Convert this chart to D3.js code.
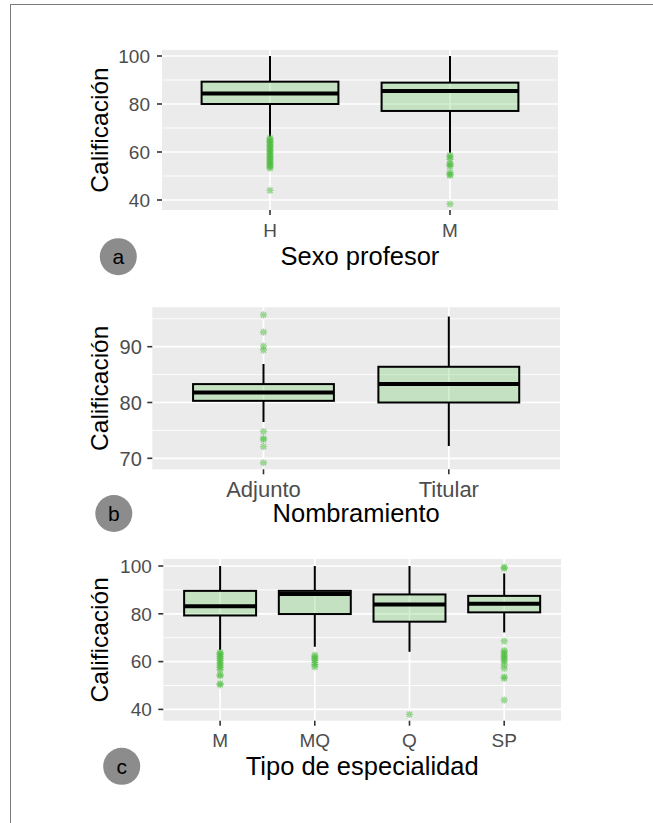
<!DOCTYPE html>
<html>
<head>
<meta charset="utf-8">
<script src="https://cdn.jsdelivr.net/npm/d3@7"></script>
<style>
  html, body { margin: 0; padding: 0; background: #fff; }
  svg { display: block; font-family: "Liberation Sans", Arial, Helvetica, sans-serif; }
</style>
</head>
<body>
<svg id="chart" width="653" height="823"></svg>
<script>
// ---------------- DATA ----------------
// Panel a: Sexo profesor
const sexoCats = ["H", "M"];
const sexoLower = [66.4, 59.7];
const sexoQ1 = [80.0, 77.1];
const sexoMedian = [84.4, 85.4];
const sexoQ3 = [89.3, 88.9];
const sexoUpper = [100, 100];
const sexoOutliers = [
  [65.8, 65.2, 64.6, 64.0, 63.4, 62.8, 62.2, 61.6, 61.0, 60.4, 59.8, 59.2, 58.6, 58.0, 57.4, 56.8, 56.2, 55.6, 55.0, 54.4, 53.8, 53.3, 44.0],
  [58.6, 58.0, 57.0, 55.2, 54.6, 54.0, 51.5, 50.7, 50.2, 38.3]
];
const sexoTicks = [40, 60, 80, 100];

// Panel b: Nombramiento
const nombCats = ["Adjunto", "Titular"];
const nombLower = [76.5, 72.2];
const nombQ1 = [80.3, 80.0];
const nombMedian = [81.8, 83.3];
const nombQ3 = [83.3, 86.4];
const nombUpper = [86.9, 95.4];
const nombOutliers = [
  [95.7, 92.6, 90.1, 89.4, 74.8, 73.6, 73.3, 72.1, 69.2],
  []
];
const nombTicks = [70, 80, 90];

// Panel c: Tipo de especialidad
const espCats = ["M", "MQ", "Q", "SP"];
const espLower = [64.8, 66.2, 64.1, 72.2];
const espQ1 = [79.3, 79.9, 76.7, 80.6];
const espMedian = [83.2, 88.3, 83.9, 84.2];
const espQ3 = [89.6, 89.6, 88.1, 87.5];
const espUpper = [100, 100, 100, 96.9];
const espOutliers = [
  [63.8, 63.3, 62.8, 62.0, 61.3, 60.5, 59.8, 59.0, 58.2, 57.5, 56.6, 54.5, 54.0, 50.8, 50.3],
  [62.7, 62.0, 61.3, 60.6, 59.6, 58.7, 57.8],
  [37.9],
  [99.5, 99.0, 68.6, 64.6, 64.0, 63.0, 62.3, 61.6, 60.8, 60.0, 58.6, 57.1, 53.6, 53.0, 43.9]
];
const espTicks = [40, 60, 80, 100];

const yTitle = "Calificación";

// ---------------- LAYOUT ----------------
const svg = d3.select("#chart");

// figure frame (top + left visible)
svg.append("line").attr("x1", 10).attr("y1", 4.5).attr("x2", 653).attr("y2", 4.5)
  .attr("stroke", "#7a7a7a").attr("stroke-width", 1);
svg.append("line").attr("x1", 10.5).attr("y1", 4).attr("x2", 10.5).attr("y2", 823)
  .attr("stroke", "#7a7a7a").attr("stroke-width", 1);

const panels = [
  { cats: sexoCats, lo: sexoLower, q1: sexoQ1, med: sexoMedian, q3: sexoQ3, hi: sexoUpper, out: sexoOutliers,
    ticks: sexoTicks, title: "Sexo profesor", letter: "a",
    x0: 162, x1: 558, y0: 50, y1: 210, domain: [35.83, 102.5],
    yTickFont: 19, xTickFont: 19, xTickDy: 27, titleDy: 55, yLabEnd: 12,
    circle: [118.3, 256.7] },
  { cats: nombCats, lo: nombLower, q1: nombQ1, med: nombMedian, q3: nombQ3, hi: nombUpper, out: nombOutliers,
    ticks: nombTicks, title: "Nombramiento", letter: "b",
    x0: 152.3, x1: 560, y0: 307.3, y1: 469.3, domain: [68.03, 97.06],
    yTickFont: 20, xTickFont: 22, xTickDy: 28, titleDy: 52.5, yLabEnd: 10.5,
    circle: [113.8, 513.5] },
  { cats: espCats, lo: espLower, q1: espQ1, med: espMedian, q3: espQ3, hi: espUpper, out: espOutliers,
    ticks: espTicks, title: "Tipo de especialidad", letter: "c",
    x0: 163.3, x1: 561, y0: 559, y1: 720.7, domain: [35.27, 102.93],
    yTickFont: 19, xTickFont: 19, xTickDy: 26.5, titleDy: 54.5, yLabEnd: 11.5,
    circle: [121.7, 766.3] }
];

const boxFill = "rgb(105,205,95)";
const outColor = "rgb(75,188,60)";

function asterisk(r) {
  const d = r * 0.72;
  return `M${-r},0L${r},0M0,${-r}L0,${r}M${-d},${-d}L${d},${d}M${-d},${d}L${d},${-d}`;
}

panels.forEach(p => {
  const g = svg.append("g");
  const x = d3.scalePoint().domain(p.cats).range([p.x0, p.x1]).padding(0.6);
  const y = d3.scaleLinear().domain(p.domain).range([p.y1, p.y0]);
  const bw = x.step() * 0.76;

  // panel background
  g.append("rect").attr("x", p.x0).attr("y", p.y0)
    .attr("width", p.x1 - p.x0).attr("height", p.y1 - p.y0).attr("fill", "#ebebeb");

  // minor grid
  const step = p.ticks[1] - p.ticks[0];
  const minors = [];
  for (let i = 0; i < p.ticks.length + 1; i++) {
    const v = p.ticks[0] - step / 2 + i * step;
    if (v > p.domain[0] && v < p.domain[1]) minors.push(v);
  }
  g.selectAll(".minor").data(minors).enter().append("line")
    .attr("x1", p.x0).attr("x2", p.x1)
    .attr("y1", d => y(d)).attr("y2", d => y(d))
    .attr("stroke", "#fff").attr("stroke-width", 0.9);
  // major grid
  g.selectAll(".major").data(p.ticks).enter().append("line")
    .attr("x1", p.x0).attr("x2", p.x1)
    .attr("y1", d => y(d)).attr("y2", d => y(d))
    .attr("stroke", "#fff").attr("stroke-width", 1.7);
  g.selectAll(".vmajor").data(p.cats).enter().append("line")
    .attr("x1", d => x(d)).attr("x2", d => x(d))
    .attr("y1", p.y0).attr("y2", p.y1)
    .attr("stroke", "#fff").attr("stroke-width", 1.7);

  p.cats.forEach((c, i) => {
    const cx = x(c);
    // whiskers
    g.append("line").attr("x1", cx).attr("x2", cx).attr("y1", y(p.hi[i])).attr("y2", y(p.q3[i]))
      .attr("stroke", "#000").attr("stroke-width", 2);
    g.append("line").attr("x1", cx).attr("x2", cx).attr("y1", y(p.q1[i])).attr("y2", y(p.lo[i]))
      .attr("stroke", "#000").attr("stroke-width", 2);
    // box
    g.append("rect").attr("x", cx - bw / 2).attr("y", y(p.q3[i]))
      .attr("width", bw).attr("height", y(p.q1[i]) - y(p.q3[i]))
      .attr("fill", boxFill).attr("fill-opacity", 0.3)
      .attr("stroke", "#000").attr("stroke-width", 2);
    // median
    g.append("line").attr("x1", cx - bw / 2).attr("x2", cx + bw / 2)
      .attr("y1", y(p.med[i])).attr("y2", y(p.med[i]))
      .attr("stroke", "#000").attr("stroke-width", 4);
    // outliers
    g.selectAll(null).data(p.out[i]).enter().append("path")
      .attr("d", asterisk(3.6))
      .attr("transform", d => `translate(${cx},${y(d)})`)
      .attr("fill", "none").attr("stroke", outColor)
      .attr("stroke-width", 1.4).attr("stroke-opacity", 0.55);
  });

  // y axis ticks + labels
  g.selectAll(".yt").data(p.ticks).enter().append("line")
    .attr("x1", p.x0 - 5).attr("x2", p.x0)
    .attr("y1", d => y(d)).attr("y2", d => y(d))
    .attr("stroke", "#333").attr("stroke-width", 1.6);
  g.selectAll(".yl").data(p.ticks).enter().append("text")
    .attr("x", p.x0 - p.yLabEnd).attr("y", d => y(d)).attr("dy", "0.36em")
    .attr("text-anchor", "end").attr("font-size", p.yTickFont).attr("fill", "#4d4d4d")
    .text(d => d);

  // x axis ticks + labels
  g.selectAll(".xt").data(p.cats).enter().append("line")
    .attr("x1", d => x(d)).attr("x2", d => x(d))
    .attr("y1", p.y1).attr("y2", p.y1 + 5)
    .attr("stroke", "#333").attr("stroke-width", 1.6);
  g.selectAll(".xl").data(p.cats).enter().append("text")
    .attr("x", d => x(d)).attr("y", p.y1 + p.xTickDy)
    .attr("text-anchor", "middle").attr("font-size", p.xTickFont).attr("fill", "#4d4d4d")
    .text(d => d);

  // axis titles
  g.append("text").attr("x", (p.x0 + p.x1) / 2).attr("y", p.y1 + p.titleDy)
    .attr("text-anchor", "middle").attr("font-size", 25.5).attr("fill", "#000")
    .text(p.title);
  g.append("text")
    .attr("transform", `translate(108,${(p.y0 + p.y1) / 2}) rotate(-90)`)
    .attr("text-anchor", "middle").attr("font-size", 24.5).attr("fill", "#000")
    .text(yTitle);

  // panel letter
  g.append("circle").attr("cx", p.circle[0]).attr("cy", p.circle[1]).attr("r", 18.5)
    .attr("fill", "#8c8c8c");
  g.append("text").attr("x", p.circle[0]).attr("y", p.circle[1]).attr("dy", "0.35em")
    .attr("text-anchor", "middle").attr("font-size", 21).attr("fill", "#000")
    .text(p.letter);
});
</script>
</body>
</html>
